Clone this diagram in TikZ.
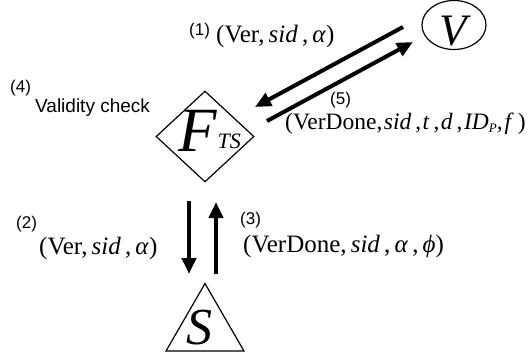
\documentclass[tikz,border=0pt]{standalone}
\usepackage{fontspec}
\setmainfont{Liberation Serif}
\newfontfamily\lsans{Liberation Sans}
\usetikzlibrary{shapes.geometric,arrows.meta}
\begin{document}
\begin{tikzpicture}[x=1pt,y=-1pt,
  shp/.style={draw,line width=1.2pt,inner sep=0pt},
  msg/.style={line width=4pt,-{Triangle[length=16pt,width=14pt]}},
  lbl/.style={font=\lsans\fontsize{17}{17}\selectfont,inner sep=0pt,anchor=base west},
  txt/.style={font=\fontsize{25}{25}\selectfont,inner sep=0pt,anchor=base west}]
\useasboundingbox (0,0) rectangle (530,356);
% shapes
\node[shp,diamond,minimum width=98pt,minimum height=91pt] (F) at (205,136.5) {};
\node[shp,ellipse,minimum width=64pt,minimum height=49pt] (V) at (454,25) {};
\node[shp,regular polygon,regular polygon sides=3,minimum size=90pt] (S) at (205,328.5) {};
% letters
\node[inner sep=0pt,anchor=base west] (Ft) at (178,151) {\fontsize{63}{63}\selectfont\itshape F\kern1pt\raisebox{3pt}{\fontsize{22}{22}\selectfont TS}};
\node[inner sep=0pt,anchor=base west] (Vt) at (439,45) {\fontsize{45}{45}\selectfont\itshape V};
\node[inner sep=0pt,anchor=base west] (St) at (186,344) {\fontsize{52}{52}\selectfont\itshape S};
% arrow ends
\coordinate (a1s) at (403,27);
\coordinate (a1e) at (255,107);
\coordinate (a2s) at (267,121);
\coordinate (a2e) at (413,42);
\coordinate (a3s) at (189,201);
\coordinate (a3e) at (189,274);
\coordinate (a4s) at (216,274);
\coordinate (a4e) at (216,202);
\draw[msg] (a1s) -- (a1e);
\draw[msg] (a2s) -- (a2e);
\draw[msg] (a3s) -- (a3e);
\draw[msg] (a4s) -- (a4e);
% labels
\node[lbl] (n1) at (189,35) {(1)};
\node[txt] (m1) at (216,42) {(Ver,\,\textit{sid}\,,\,\textit{α})};
\node[lbl] (n4) at (10,92) {(4)};
\node[lbl,font=\lsans\fontsize{19}{19}\selectfont] (vc) at (35,112) {Validity check};
\node[lbl] (n5) at (330,104) {(5)};
\node[txt,font=\fontsize{23.5}{23.5}\selectfont] (m5) at (285,129) {(VerDone,\kern1.5pt\textit{sid}\,,\kern1.5pt\textit{t}\,,\kern1.5pt\textit{d}\,,\kern1.5pt\textit{ID}\raisebox{-3pt}{\fontsize{13}{13}\selectfont\textit{P}},\kern2pt\textit{f}\,)};
\node[lbl] (n2) at (16,228) {(2)};
\node[txt] (m2) at (39,254) {(Ver,\,\textit{sid}\,,\,\textit{α})};
\node[lbl] (n3) at (240,224) {(3)};
\node[txt] (m3) at (243,252) {(VerDone,\,\textit{sid}\,,\,\textit{α}\,,\,\textit{ϕ})};
\end{tikzpicture}
\end{document}
